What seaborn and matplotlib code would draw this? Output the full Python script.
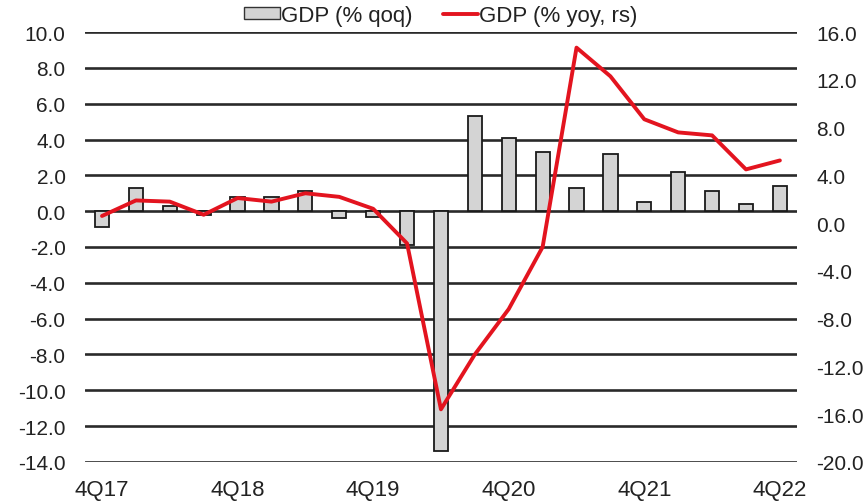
import matplotlib
matplotlib.use("Agg")
import matplotlib.pyplot as plt
from matplotlib.patches import Patch
from matplotlib.lines import Line2D
import seaborn as sns
import pandas as pd

quarters = ["4Q17", "1Q18", "2Q18", "3Q18", "4Q18", "1Q19", "2Q19", "3Q19",
            "4Q19", "1Q20", "2Q20", "3Q20", "4Q20", "1Q21", "2Q21", "3Q21",
            "4Q21", "1Q22", "2Q22", "3Q22", "4Q22"]
gdp_qoq = [-0.9, 1.3, 0.3, -0.2, 0.8, 0.8, 1.1, -0.4, -0.3, -1.9, -13.4,
           5.3, 4.1, 3.3, 1.3, 3.2, 0.5, 2.2, 1.1, 0.4, 1.4]
gdp_yoy = [0.6, 1.9, 1.8, 0.7, 2.1, 1.8, 2.5, 2.2, 1.2, -1.7, -15.6,
           -11.0, -7.2, -2.0, 14.7, 12.3, 8.7, 7.6, 7.35, 4.5, 5.25]
tick_labels = ["4Q17", "4Q18", "4Q19", "4Q20", "4Q21", "4Q22"]
left_ticks = [10, 8, 6, 4, 2, 0, -2, -4, -6, -8, -10, -12, -14]
right_ticks = [16, 12, 8, 4, 0, -4, -8, -12, -16, -20]

df = pd.DataFrame({"q": quarters, "qoq": gdp_qoq, "yoy": gdp_yoy})

sns.set_theme(style="white")
plt.rcParams["font.family"] = ["Liberation Sans", "DejaVu Sans"]

fig = plt.figure(figsize=(8.68, 5.02), dpi=100)
ax = fig.add_axes([0.098, 0.078, 0.820, 0.856])
ax2 = ax.twinx()

BAR = "#d4d4d4"
RED = "#e3141f"
TXT = "#222222"

ax.set_axisbelow(True)
for v in left_ticks:
    ax.axhline(v, color="#2a2a2a", lw=1.9, zorder=0)

sns.barplot(data=df, x="q", y="qoq", order=quarters, color=BAR, width=0.42,
            edgecolor="#1a1a1a", linewidth=1.3, saturation=1, ax=ax, zorder=2)

sns.lineplot(x=list(range(len(quarters))), y=gdp_yoy, color=RED, lw=2.8,
             ax=ax2, zorder=3)

ax.set_xlim(-0.5, len(quarters) - 0.5)
ax.set_ylim(-14, 10)
ax2.set_ylim(-20, 16)

idx = [quarters.index(t) for t in tick_labels]
ax.set_xticks(idx)
ax.set_xticklabels(tick_labels)
ax.set_yticks(left_ticks)
ax.set_yticklabels([f"{v:.1f}" for v in left_ticks])
ax2.set_yticks(right_ticks)
ax2.set_yticklabels([f"{v:.1f}" for v in right_ticks])

ax.set_xlabel("")
ax.set_ylabel("")
ax2.set_ylabel("")
for a in (ax, ax2):
    for s in a.spines.values():
        s.set_visible(False)
    a.tick_params(length=0, labelsize=15, colors=TXT)
ax.tick_params(axis="y", pad=14)
ax2.tick_params(axis="y", pad=14)
ax.tick_params(axis="x", pad=12, labelsize=16)
ax2.grid(False)
ax.grid(False)

handles = [Patch(facecolor=BAR, edgecolor="#333333", linewidth=1.0),
           Line2D([0], [0], color=RED, lw=2.8)]
fig.legend(handles, ["GDP (% qoq)", "GDP (% yoy, rs)"], loc="center",
           bbox_to_anchor=(0.508, 0.968), ncol=2, frameon=False,
           fontsize=16, handlelength=1.6, handleheight=0.45,
           handletextpad=0.05, columnspacing=1.35, labelcolor=TXT,
           borderpad=0.1)

fig.savefig("out.png", dpi=100, facecolor="white")
